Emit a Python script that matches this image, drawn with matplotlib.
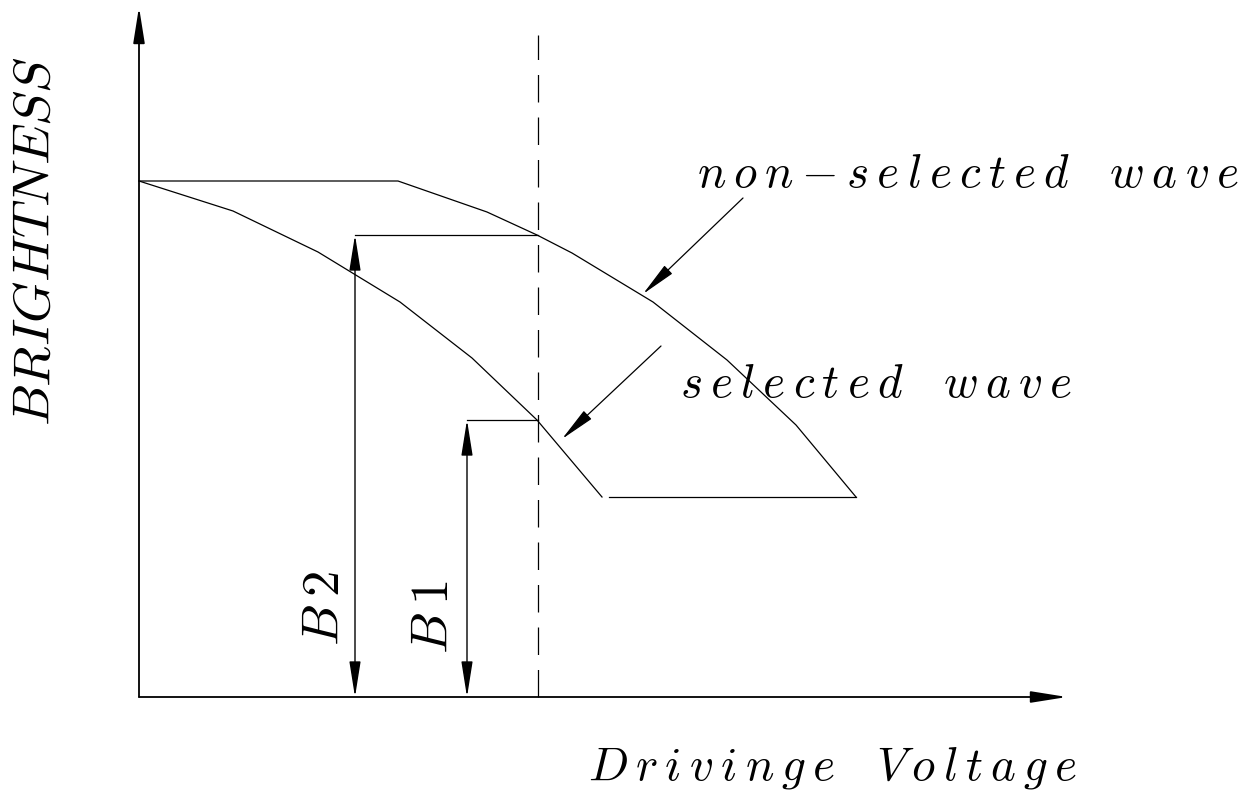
import matplotlib.pyplot as plt

plt.rcParams['mathtext.fontset'] = 'cm'

# brightness curves, drawn in (voltage, brightness) units
sel_v = [0, 94, 179, 261, 333, 398, 463]
sel_b = [516, 486, 445, 395, 339, 277, 200]
floor_v = [470, 717]
floor_b = [200, 200]
non_v = [0, 259, 348, 398, 433, 514, 588, 657, 717]
non_b = [516, 516, 485, 462, 444, 395, 337, 272, 200]

v_sel = 399          # voltage at the dashed line
b2_v, b2_level = 216, 462
b1_v, b1_level = 328, 277
x_max, y_max = 928, 690
dash_top = 662


def spaced(s, gap=r'\hspace{0.2}'):
    # wide letter spacing like the plotter font of the original
    words = []
    for w in s.split(' '):
        words.append(gap.join('{-}' if c == '-' else c for c in w))
    return '$' + r'\quad '.join(words) + '$'


head = dict(arrowstyle='-|>,head_length=2.2,head_width=0.35', mutation_scale=10,
            color='black', lw=1.0, shrinkA=0, shrinkB=0)
both = dict(head, arrowstyle='<|-|>,head_length=2.2,head_width=0.35')

fig = plt.figure(figsize=(12.59, 7.94), dpi=100)
ax = fig.add_axes([0, 0, 1, 1])
ax.set_xlim(-139, 1120)
ax.set_ylim(-97, 697)
ax.axis('off')

# axes with arrows
ax.annotate('', xy=(x_max, 0), xytext=(0, 0), arrowprops=dict(head, lw=1.3))
ax.annotate('', xy=(0, y_max), xytext=(0, 0), arrowprops=dict(head, lw=1.3))

ax.plot(non_v, non_b, color='black', lw=0.9)
ax.plot(sel_v, sel_b, color='black', lw=0.9)
ax.plot(floor_v, floor_b, color='black', lw=0.9)

ax.plot([v_sel, v_sel], [0, dash_top], color='black', lw=0.9, dashes=(22, 12))

# B2 and B1 dimensions
ax.plot([b2_v, v_sel], [b2_level, b2_level], color='black', lw=0.9)
ax.annotate('', xy=(b2_v, b2_level), xytext=(b2_v, 0), arrowprops=both)
ax.plot([b1_v, v_sel], [b1_level, b1_level], color='black', lw=0.9)
ax.annotate('', xy=(b1_v, b1_level), xytext=(b1_v, 0), arrowprops=both)

# leaders
ax.annotate('', xy=(504, 403), xytext=(604, 499), arrowprops=dict(head, lw=0.9))
ax.annotate('', xy=(423, 258), xytext=(522, 351), arrowprops=dict(head, lw=0.9))

txt = dict(fontsize=34, color='black')
ax.text(558, 522, spaced('non-selected wave'), ha='left', va='center', **txt)
ax.text(541, 312, spaced('selected wave'), ha='left', va='center', **txt)
ax.text(449, -71, spaced('Drivinge Voltage'), ha='left', va='center', **txt)
ax.text(-104, 456, r'$BRIGHTNESS$', ha='center', va='center',
        rotation=90, fontsize=38, color='black')
ax.text(185, 89, spaced('B2'), ha='center', va='center', rotation=90,
        fontsize=38, color='black')
ax.text(294, 80, spaced('B1'), ha='center', va='center', rotation=90,
        fontsize=38, color='black')

fig.savefig('out.png', dpi=100)
plt.close(fig)
